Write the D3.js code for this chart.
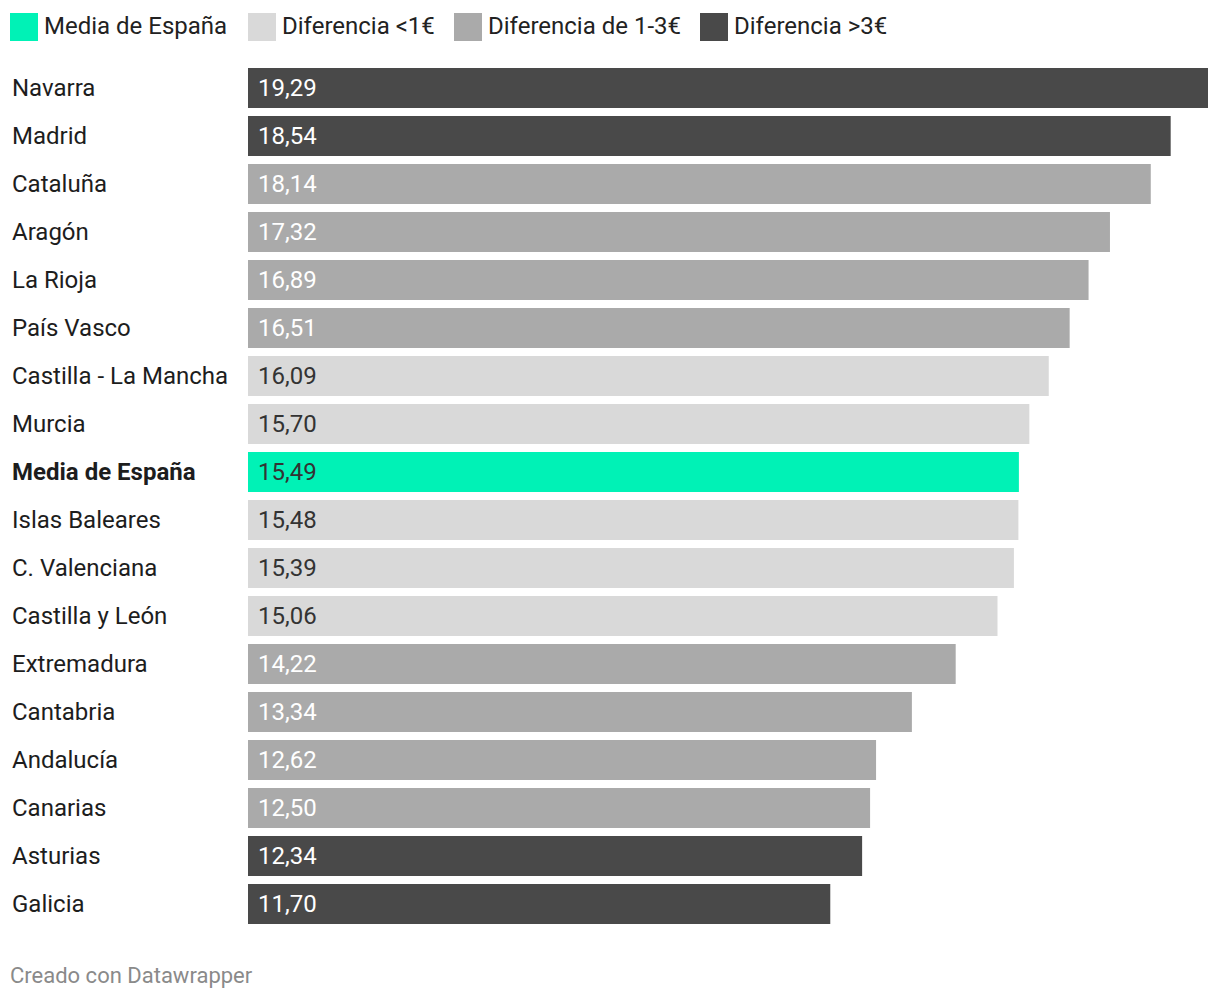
<!DOCTYPE html>
<html>
<head>
<meta charset="utf-8">
<style>
  body { margin: 0; background: #fff; font-family: Roboto, "Noto Sans", sans-serif; }
</style>
</head>
<body>
<div id="chart"></div>
<script src="https://d3js.org/d3.v7.min.js"></script>
<script>
    // data
    var regions = ["Navarra", "Madrid", "Cataluña", "Aragón", "La Rioja", "País Vasco",
        "Castilla - La Mancha", "Murcia", "Media de España", "Islas Baleares", "C. Valenciana",
        "Castilla y León", "Extremadura", "Cantabria", "Andalucía", "Canarias", "Asturias", "Galicia"];
    var values = [19.29, 18.54, 18.14, 17.32, 16.89, 16.51, 16.09, 15.70, 15.49, 15.48, 15.39,
        15.06, 14.22, 13.34, 12.62, 12.50, 12.34, 11.70];
    // group: 0 = media, 1 = <1€, 2 = 1-3€, 3 = >3€
    var groups = [3, 3, 2, 2, 2, 2, 1, 1, 0, 1, 1, 1, 2, 2, 2, 2, 3, 3];
    var legendLabels = ["Media de España", "Diferencia <1€", "Diferencia de 1-3€", "Diferencia >3€"];

    var groupColors = ["#00f2b6", "#d9d9d9", "#aaaaaa", "#494949"];
    var textColors = ["#333333", "#333333", "#ffffff", "#ffffff"];

    var width = 1220, height = 1002;
    var svg = d3.select("#chart").append("svg")
        .attr("width", width)
        .attr("height", height);

    var data = regions.map(function(r, i) {
        return { region: r, value: values[i], group: groups[i] };
    });

    var x = d3.scaleLinear().domain([0, d3.max(values)]).range([248, 1208]);
    var y = d3.scaleBand().domain(regions).range([64, 928]).paddingInner(1/6).paddingOuter(1/12);

    // legend
    var legendX = [10, 248, 454, 700];
    var legend = svg.append("g").selectAll("g")
        .data(legendLabels)
        .enter().append("g")
        .attr("transform", function(d, i) { return "translate(" + legendX[i] + ",13)"; });
    legend.append("rect")
        .attr("width", 28).attr("height", 28)
        .attr("fill", function(d, i) { return groupColors[i]; });
    legend.append("text")
        .attr("x", 34).attr("y", 21)
        .attr("font-size", 24)
        .attr("fill", "#222")
        .text(function(d) { return d; });

    var row = svg.append("g").selectAll("g")
        .data(data)
        .enter().append("g");

    row.append("text")
        .attr("x", 12)
        .attr("y", function(d) { return y(d.region) + y.bandwidth() / 2 + 7.5; })
        .attr("font-size", 24)
        .attr("font-weight", function(d) { return d.group === 0 ? "bold" : "normal"; })
        .attr("fill", "#1d1d1d")
        .text(function(d) { return d.region; });

    row.append("rect")
        .attr("x", x(0))
        .attr("y", function(d) { return y(d.region); })
        .attr("width", function(d) { return x(d.value) - x(0); })
        .attr("height", y.bandwidth())
        .attr("fill", function(d) { return groupColors[d.group]; });

    row.append("text")
        .attr("x", x(0) + 10)
        .attr("y", function(d) { return y(d.region) + y.bandwidth() / 2 + 7.5; })
        .attr("font-size", 24)
        .attr("fill", function(d) { return textColors[d.group]; })
        .text(function(d) { return d3.format(".2f")(d.value).replace(".", ","); });

    svg.append("text")
        .attr("x", 10).attr("y", 983)
        .attr("font-size", 22)
        .attr("fill", "#8a8a8a")
        .text("Creado con Datawrapper");
</script>
</body>
</html>
